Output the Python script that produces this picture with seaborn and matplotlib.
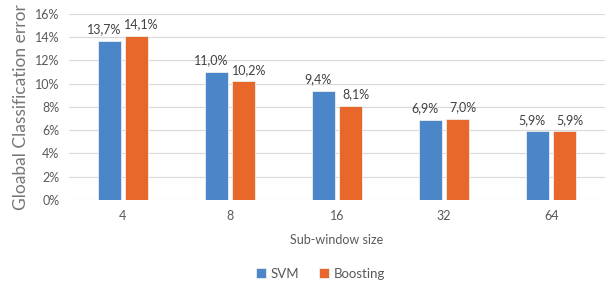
import pandas as pd
import matplotlib.pyplot as plt
import seaborn as sns
from matplotlib.ticker import FuncFormatter

sizes = ["4", "8", "16", "32", "64"]
svm = [13.7, 11.0, 9.4, 6.9, 5.9]
boosting = [14.1, 10.2, 8.1, 7.0, 5.9]

df = pd.DataFrame({
    "size": sizes * 2,
    "error": svm + boosting,
    "method": ["SVM"] * len(sizes) + ["Boosting"] * len(sizes),
})

sns.set_style("white")
plt.rcParams["font.family"] = ["Lato", "DejaVu Sans"]
grey = "#595959"

fig = plt.figure(figsize=(6.11, 2.84), dpi=100)
ax = fig.add_axes([0.113, 0.296, 0.877, 0.655])
sns.barplot(data=df, x="size", y="error", hue="method", ax=ax,
            palette=["#4A86C8", "#E8672A"], saturation=1, width=0.5, gap=0.14,
            edgecolor="#EEEEEE", linewidth=0.6, zorder=3)

# nudge labels apart so neighbours don't collide (like excel does)
shifts = [-4, 4]
for cont, dx in zip(ax.containers, shifts):
    anns = ax.bar_label(cont, labels=[f"{v:.1f}%".replace(".", ",") for v in cont.datavalues],
                        padding=4, fontsize=9, color="#404040")
    for a in anns:
        a.xyann = (dx, a.xyann[1])

ax.set_ylim(0, 16)
ax.set_yticks(range(0, 17, 2))
ax.yaxis.set_major_formatter(FuncFormatter(lambda v, p: f"{v:.0f}%"))
ax.grid(axis="y", color="#D9D9D9", linewidth=0.8, zorder=0)
for s in ax.spines.values():
    s.set_visible(False)
ax.tick_params(axis="both", length=0, labelsize=9, colors=grey, pad=7)
ax.set_ylabel("Gloabal Classification error", fontsize=12.5, color="#767676")
ax.set_xlabel("Sub-window size", fontsize=9, color=grey, labelpad=9)

ax.legend(loc="upper center", bbox_to_anchor=(0.47, -0.30), ncol=2, frameon=False,
          fontsize=9.5, labelcolor=grey, handlelength=0.7, handleheight=0.7,
          handletextpad=0.4, columnspacing=1.5)

fig.savefig("out.png", dpi=100)
